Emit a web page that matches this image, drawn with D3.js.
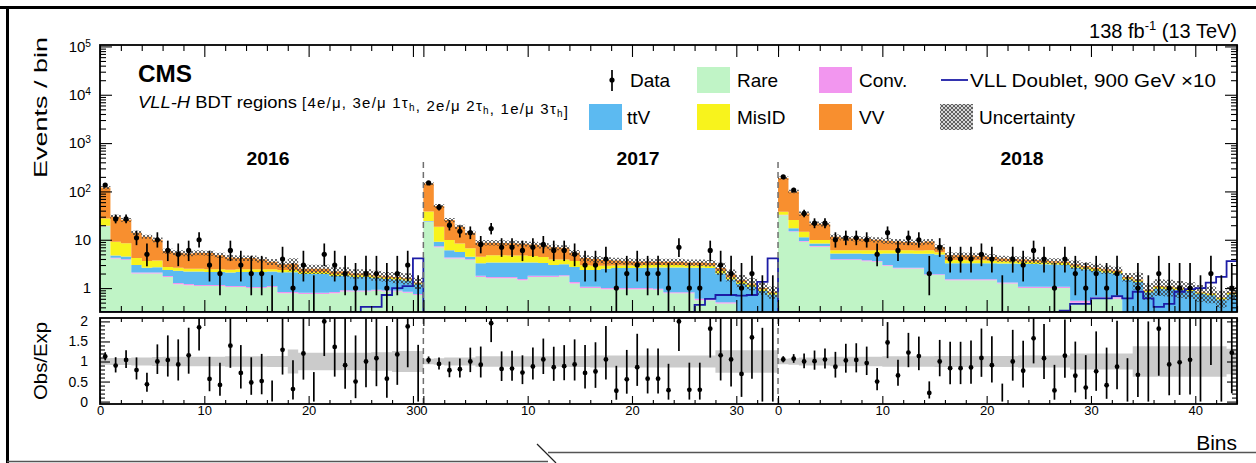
<!DOCTYPE html>
<html>
<head>
<meta charset="utf-8">
<title>VLL-H BDT regions</title>
<script src="https://cdn.jsdelivr.net/npm/d3@7/dist/d3.min.js"></script>
<style>
  body { margin: 0; background: #fff; }
  svg { display: block; }
  text { font-family: "Liberation Sans", Arial, Helvetica, sans-serif; fill: #000; }
</style>
</head>
<body>
<svg id="chart" width="1256" height="463"></svg>
<script>
'use strict';

// one histogram of BDT bins per data-taking year
var years = ["2016", "2017", "2018"];

// 2016, 31 bins
var rare16  = [19, 4.1, 3.8, 2.0, 2.0, 2.0, 1.7, 1.2, 1.15, 1.1, 1.1, 1.1, 1.05, 1.05, 1.0, 1.0, 1.05, 0.78, 0.78, 0.75, 0.75, 0.75, 0.78, 0.85, 0.85, 0.85, 0.88, 0.85, 0.85, 0.8, 0.72];
var conv16  = [0.3, 0.15, 0.15, 0.1, 0.1, 0.1, 0.08, 0.08, 0.06, 0.06, 0.06, 0.06, 0.05, 0.05, 0.05, 0.05, 0.05, 0.05, 0.05, 0.05, 0.05, 0.05, 0.05, 0.05, 0.04, 0.04, 0.04, 0.04, 0.04, 0.04, 0.03];
var ttv16   = [0.3, 0.5, 0.55, 0.9, 0.55, 0.6, 0.6, 1.0, 1.0, 1.05, 1.0, 1.0, 1.0, 1.05, 1.1, 1.1, 1.1, 1.3, 1.3, 1.15, 1.15, 1.15, 0.95, 0.9, 0.8, 0.8, 0.7, 0.65, 0.62, 0.6, 0.45];
var misid16 = [8, 4.3, 4.0, 1.2, 1.0, 1.0, 0.35, 0.35, 0.3, 0.3, 0.3, 0.3, 0.3, 0.3, 0.3, 0.3, 0.25, 0.25, 0.25, 0.2, 0.2, 0.2, 0.18, 0.18, 0.15, 0.15, 0.12, 0.1, 0.1, 0.08, 0.06];
var vv16    = [92.4, 21, 17.5, 9.8, 7.95, 6.3, 3.07, 2.77, 2.69, 2.89, 2.84, 2.34, 1.9, 1.75, 1.75, 1.45, 1.05, 0.72, 0.82, 0.35, 0.35, 0.35, 0.24, 0.22, 0.16, 0.16, 0.11, 0.11, 0.09, 0.08, 0.04];
var data16  = [135, 27, 27, 11, 5, 10, 6, 5, 6, 10, 3, 2, 6, 3, 2, 2, 0, 4, 1, 3, 0, 5, 3, 2, 1, 2, 2, 1, 2, 3, 0];
var sig16   = [0, 0, 0, 0, 0, 0, 0, 0, 0, 0, 0, 0, 0, 0, 0, 0, 0, 0, 0, 0, 0, 0, 0, 0, 0, 0.41, 0.41, 0.72, 1.0, 1.1, 4.1];
var unc16   = [0.08, 0.09, 0.09, 0.1, 0.1, 0.11, 0.12, 0.12, 0.12, 0.12, 0.12, 0.12, 0.13, 0.13, 0.13, 0.13, 0.14, 0.14, 0.3, 0.22, 0.22, 0.22, 0.22, 0.22, 0.22, 0.22, 0.23, 0.23, 0.26, 0.26, 0.26];

// 2017, 34 bins
var rare17  = [23.6, 7, 4.1, 4.1, 3.8, 1.7, 1.6, 1.6, 1.6, 1.45, 1.7, 1.7, 1.7, 1.75, 1.25, 1.0, 1.0, 0.95, 0.95, 0.95, 0.95, 0.95, 0.92, 0.78, 0.78, 0.78, 0.56, 0.56, 0.48, 0.48, 0.25, 0.25, 0.2, 0.2];
var conv17  = [0.3, 0.3, 0.2, 0.2, 0.15, 0.1, 0.1, 0.1, 0.1, 0.1, 0.1, 0.1, 0.1, 0.1, 0.08, 0.06, 0.06, 0.05, 0.05, 0.05, 0.05, 0.05, 0.05, 0.04, 0.04, 0.04, 0.04, 0.04, 0.03, 0.03, 0.02, 0.02, 0.02, 0.02];
var ttv17   = [0.5, 1.8, 1.8, 1.3, 0.5, 1.45, 1.7, 1.7, 1.7, 1.85, 1.6, 1.5, 1.2, 1.25, 1.4, 1.3, 1.3, 1.5, 1.6, 1.6, 1.6, 1.65, 1.7, 1.85, 1.85, 1.8, 2.05, 2.0, 1.5, 1.0, 0.95, 0.8, 0.65, 0.52];
var misid17 = [14, 9.5, 3.8, 2.8, 2.2, 1.2, 1.4, 1.4, 1.3, 1.3, 1.2, 1.1, 0.9, 0.8, 0.9, 0.6, 0.55, 0.4, 0.35, 0.35, 0.35, 0.35, 0.33, 0.33, 0.33, 0.33, 0.3, 0.3, 0.25, 0.15, 0.12, 0.1, 0.08, 0.06];
var vv17    = [106.6, 31.4, 15.7, 10.2, 7.35, 4.25, 3.9, 3.8, 3.8, 3.6, 3.4, 3.2, 3.1, 2.9, 1.77, 1.24, 1.09, 0.9, 0.75, 0.65, 0.55, 0.5, 0.5, 0.5, 0.5, 0.45, 0.45, 0.4, 0.34, 0.24, 0.11, 0.08, 0.05, 0.04];
var data17  = [150, 47, 20, 15, 14, 8, 17, 7, 7, 6, 7, 8, 6, 6, 5, 3, 3, 4, 1, 2, 3, 2, 2, 1, 7, 1, 1, 6, 3, 2, 1, 2, 0, 0];
var sig17   = [0, 0, 0, 0, 0, 0, 0, 0, 0, 0, 0, 0, 0, 0, 0, 0, 0, 0, 0, 0, 0, 0, 0, 0, 0, 0, 0.45, 0.6, 0.72, 0.72, 0.7, 0.72, 1.35, 4.1];
var unc17   = [0.07, 0.08, 0.1, 0.1, 0.1, 0.13, 0.13, 0.13, 0.13, 0.13, 0.13, 0.13, 0.13, 0.13, 0.14, 0.14, 0.15, 0.15, 0.15, 0.15, 0.15, 0.15, 0.15, 0.15, 0.15, 0.15, 0.15, 0.15, 0.28, 0.28, 0.28, 0.28, 0.28, 0.28];

// 2018, 44 bins
var rare18  = [32, 14.6, 9.1, 7.2, 7.2, 3.8, 3.8, 3.8, 3.6, 3.5, 2.9, 2.55, 2.55, 2.55, 1.86, 1.86, 1.46, 1.46, 1.46, 1.46, 1.46, 1.25, 1.25, 1.0, 1.0, 1.0, 1.0, 1.0, 0.5, 0.5, 0.6, 0.6, 0.6, 0.2, 0.2, 0.15, 0.15, 0.15, 0.15, 0.15, 0.12, 0.12, 0.1, 0.1];
var conv18  = [0.5, 0.4, 0.3, 0.2, 0.2, 0.15, 0.15, 0.15, 0.15, 0.15, 0.1, 0.1, 0.1, 0.1, 0.08, 0.08, 0.06, 0.06, 0.06, 0.06, 0.06, 0.06, 0.06, 0.06, 0.06, 0.06, 0.06, 0.06, 0.05, 0.05, 0.05, 0.05, 0.05, 0.03, 0.03, 0.02, 0.02, 0.02, 0.02, 0.02, 0.02, 0.02, 0.02, 0.02];
var ttv18   = [0.5, 2.2, 1.8, 1.0, 1.0, 1.25, 1.25, 1.25, 1.4, 1.5, 2.2, 2.55, 2.55, 2.5, 3.2, 3.0, 1.73, 1.73, 1.73, 1.75, 1.75, 1.9, 1.9, 2.1, 2.1, 2.05, 2.0, 1.95, 2.1, 1.9, 1.62, 1.45, 1.35, 1.25, 1.1, 0.65, 0.8, 0.78, 0.74, 0.7, 0.62, 0.57, 0.46, 0.62];
var misid18 = [5, 8.4, 3.4, 1.5, 1.5, 0.9, 0.9, 0.9, 0.9, 0.9, 0.9, 0.9, 0.85, 0.85, 0.9, 0.6, 0.55, 0.55, 0.5, 0.5, 0.45, 0.4, 0.4, 0.35, 0.35, 0.33, 0.3, 0.3, 0.25, 0.22, 0.2, 0.18, 0.15, 0.12, 0.1, 0.06, 0.08, 0.08, 0.07, 0.06, 0.05, 0.05, 0.04, 0.05];
var vv18    = [152, 74.4, 20.4, 11.9, 11.1, 5.4, 4.6, 4.5, 4.35, 3.95, 3.4, 3.1, 2.95, 2.8, 3.16, 1.46, 1.0, 1.0, 0.95, 0.83, 0.68, 0.49, 0.39, 0.39, 0.29, 0.26, 0.24, 0.19, 0.2, 0.18, 0.18, 0.17, 0.15, 0.1, 0.07, 0.04, 0.05, 0.05, 0.04, 0.03, 0.03, 0.02, 0.02, 0.03];
var data18  = [200, 107, 35, 22, 22, 10, 11, 11, 10, 5, 14, 6, 11, 10, 2, 7, 4, 4, 4, 5, 4, 0, 4, 3, 6, 4, 1, 4, 2, 1, 2, 1, 2, 0, 1, 0, 2, 1, 1, 1, 0, 2, 0, 1];
var sig18   = [0, 0, 0, 0, 0, 0, 0, 0, 0, 0, 0, 0, 0, 0, 0, 0, 0, 0, 0, 0, 0, 0, 0, 0, 0, 0, 0, 0.34, 0.47, 0.47, 0.61, 0.61, 0.68, 0.61, 0.84, 0.61, 0.41, 0.47, 0.84, 0.95, 1.0, 1.3, 1.7, 3.6];
var unc18   = [0.07, 0.08, 0.1, 0.1, 0.1, 0.12, 0.12, 0.12, 0.12, 0.12, 0.13, 0.13, 0.13, 0.13, 0.13, 0.14, 0.14, 0.14, 0.14, 0.14, 0.14, 0.14, 0.14, 0.15, 0.15, 0.15, 0.15, 0.15, 0.2, 0.2, 0.2, 0.2, 0.2, 0.2, 0.38, 0.38, 0.38, 0.38, 0.38, 0.38, 0.38, 0.38, 0.38, 0.32];

// background processes, bottom of the stack first
var procs = ["rare", "conv", "ttv", "misid", "vv"];
var procNames = ["Rare", "Conv.", "ttV", "MisID", "VV"];
var ratioTicks = [0, 0.5, 1, 1.5, 2];
var logTicks = [1, 10, 100, 1e3, 1e4, 1e5];

var colors = { rare: "#c0f4c6", conv: "#f296ef", ttv: "#5cbaf1", misid: "#f8f31c", vv: "#f88f2f" };
var sigColor = "#1c1ca6";

// garwood 68% intervals (down, up) for small counts
var garwood = [[0, 1.84], [0.83, 2.30], [1.29, 2.64], [1.63, 2.92], [1.91, 3.16], [2.16, 3.38],
               [2.38, 3.58], [2.58, 3.77], [2.77, 3.95], [2.94, 4.11], [3.11, 4.27]];
function poisErr(n) {
  if (n <= 10) return garwood[n];
  return [Math.sqrt(n - 0.25), Math.sqrt(n + 0.75) + 1];
}

var comp = {
  rare: [rare16, rare17, rare18], conv: [conv16, conv17, conv18], ttv: [ttv16, ttv17, ttv18],
  misid: [misid16, misid17, misid18], vv: [vv16, vv17, vv18]
};
var dataY = [data16, data17, data18], sigY = [sig16, sig17, sig18], uncY = [unc16, unc17, unc18];

var nb = [data16.length, data17.length, data18.length];
var start = [0, nb[0], nb[0] + nb[1]];
var N = nb[0] + nb[1] + nb[2];

var bins = [];
years.forEach(function(yr, k) {
  for (var j = 0; j < nb[k]; j++) {
    var b = { year: k, j: j, data: dataY[k][j], sig: sigY[k][j], unc: uncY[k][j], tot: 0 };
    procs.forEach(function(p) { b[p] = comp[p][k][j]; b.tot += comp[p][k][j]; });
    bins.push(b);
  }
});

// layout
var L = 100, R = 1237, T1 = 45, B1 = 312, T2 = 318, B2 = 404;
var svg = d3.select("#chart");

var x = d3.scaleLinear().domain([0, N]).range([L, R]);
var yMin = 0.32, yMax = 1.07e5;
var y = d3.scaleLog().domain([yMin, yMax]).range([B1, T1]);
var yc = function(v) { return y(Math.min(Math.max(v, yMin), yMax)); };
var yr = d3.scaleLinear().domain([-0.06, 2.085]).range([B2, T2]);

var defs = svg.append("defs");
defs.append("clipPath").attr("id", "clipTop").append("rect")
  .attr("x", L).attr("y", T1).attr("width", R - L).attr("height", B1 - T1);
defs.append("clipPath").attr("id", "clipRat").append("rect")
  .attr("x", L).attr("y", T2).attr("width", R - L).attr("height", B2 - T2);
var pat = defs.append("pattern").attr("id", "hatch").attr("patternUnits", "userSpaceOnUse")
  .attr("width", 4).attr("height", 4);
pat.append("path").attr("d", "M0,0L4,4M4,0L0,4M-1,3L1,5M3,-1L5,1")
  .attr("stroke", "#3b3b3b").attr("stroke-width", 0.9).attr("stroke-opacity", 0.85);

// stepped band helper: n bins -> n+1 edges
function steps(f0, f1) {
  var p = bins.map(function(d, i) { return { i: i, a: f0(d), b: f1(d) }; });
  p.push({ i: N, a: p[N - 1].a, b: p[N - 1].b });
  return p;
}
var area = d3.area().curve(d3.curveStepAfter)
  .x(function(d) { return x(d.i); }).y0(function(d) { return yc(d.a); }).y1(function(d) { return yc(d.b); });
var areaR = d3.area().curve(d3.curveStepAfter)
  .x(function(d) { return x(d.i); }).y0(function(d) { return yr(d.a); }).y1(function(d) { return yr(d.b); });

// ---------- top panel ----------
var gTop = svg.append("g").attr("clip-path", "url(#clipTop)");

var stack = d3.stack().keys(procs)(bins);
gTop.selectAll("path.proc").data(stack).join("path")
  .attr("class", "proc")
  .attr("fill", function(s) { return colors[s.key]; })
  .attr("d", function(s) {
    var p = s.map(function(d, i) { return { i: i, a: d[0], b: d[1] }; });
    p.push({ i: N, a: p[N - 1].a, b: p[N - 1].b });
    return area(p);
  });

gTop.append("path")
  .attr("d", area(steps(function(d) { return d.tot * (1 - d.unc); }, function(d) { return d.tot * (1 + d.unc); })))
  .attr("fill", "url(#hatch)");

var sigPts = bins.map(function(d, i) { return { i: i, v: d.sig }; });
sigPts.push({ i: N, v: bins[N - 1].sig });
gTop.append("path")
  .attr("d", d3.line().curve(d3.curveStepAfter)
    .x(function(d) { return x(d.i); }).y(function(d) { return yc(d.v); })(sigPts))
  .attr("fill", "none").attr("stroke", sigColor).attr("stroke-width", 1.8);

gTop.selectAll("line.err").data(bins).join("line")
  .attr("class", "err")
  .attr("x1", function(d, i) { return x(i + 0.5); }).attr("x2", function(d, i) { return x(i + 0.5); })
  .attr("y1", function(d) { return yc(d.data - poisErr(d.data)[0]); })
  .attr("y2", function(d) { return yc(d.data + poisErr(d.data)[1]); })
  .attr("stroke", "#000").attr("stroke-width", 1.7);
gTop.selectAll("circle.pt").data(bins.filter(function(d) { return d.data > 0; })).join("circle")
  .attr("class", "pt")
  .attr("cx", function(d) { return x(start[d.year] + d.j + 0.5); })
  .attr("cy", function(d) { return yc(d.data); })
  .attr("r", 2.6).attr("fill", "#000");

// ---------- ratio panel ----------
var gRat = svg.append("g").attr("clip-path", "url(#clipRat)");
gRat.append("path")
  .attr("d", areaR(steps(function(d) { return 1 - d.unc; }, function(d) { return 1 + d.unc; })))
  .attr("fill", "#cbcbcb");

gRat.selectAll("line.rerr").data(bins).join("line")
  .attr("class", "rerr")
  .attr("x1", function(d, i) { return x(i + 0.5); }).attr("x2", function(d, i) { return x(i + 0.5); })
  .attr("y1", function(d) { return yr((d.data - poisErr(d.data)[0]) / d.tot); })
  .attr("y2", function(d) { return yr((d.data + poisErr(d.data)[1]) / d.tot); })
  .attr("stroke", "#000").attr("stroke-width", 1.7);
gRat.selectAll("circle.rpt").data(bins.filter(function(d) { return d.data > 0 && d.data / d.tot < 2.08; })).join("circle")
  .attr("class", "rpt")
  .attr("cx", function(d) { return x(start[d.year] + d.j + 0.5); })
  .attr("cy", function(d) { return yr(d.data / d.tot); })
  .attr("r", 2.4).attr("fill", "#000");

// year separators
[1, 2].forEach(function(k) {
  [[162, B1], [T2, B2]].forEach(function(seg) {
    svg.append("line").attr("x1", x(start[k])).attr("x2", x(start[k]))
      .attr("y1", seg[0]).attr("y2", seg[1])
      .attr("stroke", "#6f6f6f").attr("stroke-width", 1.5).attr("stroke-dasharray", "6,4");
  });
});

// ---------- axes ----------
function styleAxis(g) {
  g.select(".domain").remove();
  g.selectAll("line").attr("stroke", "#000").attr("stroke-width", 1.1);
}

years.forEach(function(yrName, k) {
  var xs = d3.scaleLinear().domain([0, nb[k]]).range([x(start[k]), x(start[k] + nb[k])]);
  var major = d3.range(0, nb[k] + 1, 10);
  var minor = d3.range(0, nb[k] + 1, 2).filter(function(v) { return v % 10 !== 0; });
  // top panel, bottom and top edges
  svg.append("g").attr("transform", "translate(0," + B1 + ")")
    .call(d3.axisBottom(xs).tickValues(major).tickSize(-12).tickFormat("")).call(styleAxis);
  svg.append("g").attr("transform", "translate(0," + B1 + ")")
    .call(d3.axisBottom(xs).tickValues(minor).tickSize(-6).tickFormat("")).call(styleAxis);
  svg.append("g").attr("transform", "translate(0," + T1 + ")")
    .call(d3.axisTop(xs).tickValues(major).tickSize(-12).tickFormat("")).call(styleAxis);
  svg.append("g").attr("transform", "translate(0," + T1 + ")")
    .call(d3.axisTop(xs).tickValues(minor).tickSize(-6).tickFormat("")).call(styleAxis);
  // ratio panel
  var bx = svg.append("g").attr("transform", "translate(0," + B2 + ")")
    .call(d3.axisBottom(xs).tickValues(major).tickSize(-8).tickPadding(2).tickFormat(d3.format("d")))
    .call(styleAxis);
  bx.selectAll("text").attr("font-size", 13).attr("font-family", "Liberation Sans, Arial, sans-serif").attr("fill", "#000");
  svg.append("g").attr("transform", "translate(0," + B2 + ")")
    .call(d3.axisBottom(xs).tickValues(minor).tickSize(-4).tickFormat("")).call(styleAxis);
  svg.append("g").attr("transform", "translate(0," + T2 + ")")
    .call(d3.axisTop(xs).tickValues(major).tickSize(-8).tickFormat("")).call(styleAxis);
  svg.append("g").attr("transform", "translate(0," + T2 + ")")
    .call(d3.axisTop(xs).tickValues(minor).tickSize(-4).tickFormat("")).call(styleAxis);
});

// log y axis
var logMinor = [];
[0.1, 1, 10, 100, 1e3, 1e4].forEach(function(dec) {
  for (var m = 2; m <= 9; m++) { var v = m * dec; if (v > yMin && v < yMax) logMinor.push(v); }
});
var ly = svg.append("g").attr("transform", "translate(" + L + ",0)")
  .call(d3.axisLeft(y).tickValues(logTicks).tickSize(-12).tickPadding(9)).call(styleAxis);
ly.selectAll("text").attr("font-size", 15).attr("font-family", "Liberation Sans, Arial, sans-serif").attr("fill", "#000")
  .each(function(d) {
    var t = d3.select(this), e = Math.round(Math.log10(d));
    t.text(null);
    if (e === 0) t.text("1");
    else if (e === 1) t.text("10");
    else {
      t.append("tspan").text("10");
      t.append("tspan").attr("dy", "-0.5em").attr("font-size", "0.68em").text(e);
    }
  });
svg.append("g").attr("transform", "translate(" + L + ",0)")
  .call(d3.axisLeft(y).tickValues(logMinor).tickSize(-6).tickFormat("")).call(styleAxis);
svg.append("g").attr("transform", "translate(" + R + ",0)")
  .call(d3.axisRight(y).tickValues(logTicks).tickSize(-12).tickFormat("")).call(styleAxis);
svg.append("g").attr("transform", "translate(" + R + ",0)")
  .call(d3.axisRight(y).tickValues(logMinor).tickSize(-6).tickFormat("")).call(styleAxis);

// ratio y axis
var rMinor = d3.range(0, 21).map(function(v) { return v / 10; }).filter(function(v) { return ratioTicks.indexOf(v) < 0; });
var ry = svg.append("g").attr("transform", "translate(" + L + ",0)")
  .call(d3.axisLeft(yr).tickValues(ratioTicks).tickSize(-10).tickPadding(12).tickFormat(d3.format("~g")))
  .call(styleAxis);
ry.selectAll("text").attr("font-size", 14).attr("font-family", "Liberation Sans, Arial, sans-serif").attr("fill", "#000");
svg.append("g").attr("transform", "translate(" + L + ",0)")
  .call(d3.axisLeft(yr).tickValues(rMinor).tickSize(-5).tickFormat("")).call(styleAxis);
svg.append("g").attr("transform", "translate(" + R + ",0)")
  .call(d3.axisRight(yr).tickValues(ratioTicks).tickSize(-10).tickFormat("")).call(styleAxis);
svg.append("g").attr("transform", "translate(" + R + ",0)")
  .call(d3.axisRight(yr).tickValues(rMinor).tickSize(-5).tickFormat("")).call(styleAxis);

// frames
[[T1, B1], [T2, B2]].forEach(function(f) {
  svg.append("rect").attr("x", L).attr("y", f[0]).attr("width", R - L).attr("height", f[1] - f[0])
    .attr("fill", "none").attr("stroke", "#000").attr("stroke-width", 1.8);
});

// ---------- texts ----------
svg.append("text").attr("transform", "translate(47,37) rotate(-90)")
  .attr("text-anchor", "end").attr("font-size", 19).attr("textLength", 141)
  .attr("lengthAdjust", "spacingAndGlyphs").text("Events / bin");
svg.append("text").attr("transform", "translate(47,361) rotate(-90)")
  .attr("text-anchor", "middle").attr("font-size", 19).attr("textLength", 78)
  .attr("lengthAdjust", "spacingAndGlyphs").text("Obs/Exp");
svg.append("text").attr("x", R).attr("y", 450).attr("text-anchor", "end").attr("font-size", 21).text("Bins");

var lumi = svg.append("text").attr("x", R).attr("y", 38).attr("text-anchor", "end").attr("font-size", 20);
lumi.append("tspan").text("138 fb");
lumi.append("tspan").attr("dy", -8).attr("font-size", 13).text("-1");
lumi.append("tspan").attr("dy", 8).text(" (13 TeV)");

svg.append("text").attr("x", 138).attr("y", 82).attr("font-size", 23).attr("font-weight", "bold")
  .attr("textLength", 54).attr("lengthAdjust", "spacingAndGlyphs").text("CMS");
var sub = svg.append("text").attr("x", 138).attr("y", 108).attr("font-size", 16)
  .attr("textLength", 159).attr("lengthAdjust", "spacingAndGlyphs");
sub.append("tspan").attr("font-style", "italic").text("VLL-H");
sub.append("tspan").text(" BDT regions");
var br = svg.append("text").attr("x", 302).attr("y", 108).attr("font-size", 15)
  .attr("font-family", "Liberation Serif, Times New Roman, serif")
  .attr("textLength", 266).attr("lengthAdjust", "spacing");
[["[4e/\u03bc, 3e/\u03bc 1\u03c4", "h"], [", 2e/\u03bc 2\u03c4", "h"], [", 1e/\u03bc 3\u03c4", "h"]].forEach(function(p) {
  br.append("tspan").text(p[0]);
  br.append("tspan").attr("dy", 3).attr("font-size", 10).text(p[1]);
  br.append("tspan").attr("dy", -3).text("");
});
br.append("tspan").text("]");

var yearX = [268, 638, 1022];
years.forEach(function(yrName, k) {
  svg.append("text").attr("x", yearX[k]).attr("y", 165).attr("text-anchor", "middle")
    .attr("font-size", 18).attr("font-weight", "bold").attr("textLength", 43)
    .attr("lengthAdjust", "spacingAndGlyphs").text(yrName);
});

// ---------- legend ----------
var row1 = 80, row2 = 117, sw = 33, sh = 26;
var lg = svg.append("g").attr("font-size", 19);
lg.append("line").attr("x1", 612).attr("x2", 612).attr("y1", row1 - 10).attr("y2", row1 + 11)
  .attr("stroke", "#000").attr("stroke-width", 1.7);
lg.append("circle").attr("cx", 612).attr("cy", row1).attr("r", 2.6).attr("fill", "#000");
lg.append("text").attr("x", 630).attr("y", row1 + 7).text("Data");

var legBoxes = [
  { key: "rare", x: 697, row: row1, tx: 737 },
  { key: "conv", x: 819, row: row1, tx: 859 },
  { key: "ttv", x: 589, row: row2, tx: 627 },
  { key: "misid", x: 697, row: row2, tx: 737 },
  { key: "vv", x: 819, row: row2, tx: 859 }
];
legBoxes.forEach(function(b) {
  lg.append("rect").attr("x", b.x).attr("y", b.row - sh / 2).attr("width", sw).attr("height", sh)
    .attr("fill", colors[b.key]);
  lg.append("text").attr("x", b.tx).attr("y", b.row + 7).text(procNames[procs.indexOf(b.key)]);
});
lg.append("line").attr("x1", 941).attr("x2", 968).attr("y1", row1).attr("y2", row1)
  .attr("stroke", sigColor).attr("stroke-width", 1.8);
lg.append("text").attr("x", 970).attr("y", row1 + 7).attr("textLength", 246).attr("lengthAdjust", "spacingAndGlyphs")
  .text("VLL Doublet, 900 GeV \u00d710");
lg.append("rect").attr("x", 940).attr("y", row2 - sh / 2).attr("width", sw).attr("height", sh).attr("fill", "#d6d6d6");
lg.append("rect").attr("x", 940).attr("y", row2 - sh / 2).attr("width", sw).attr("height", sh).attr("fill", "url(#hatch)");
lg.append("text").attr("x", 979).attr("y", row2 + 7).text("Uncertainty");

// ---------- outer screenshot border ----------
svg.append("line").attr("x1", 0).attr("x2", 1256).attr("y1", 7.5).attr("y2", 7.5).attr("stroke", "#000").attr("stroke-width", 3);
svg.append("line").attr("x1", 7.5).attr("x2", 7.5).attr("y1", 6).attr("y2", 463).attr("stroke", "#000").attr("stroke-width", 3);
svg.append("line").attr("x1", 7).attr("x2", 548).attr("y1", 461.5).attr("y2", 461.5).attr("stroke", "#555").attr("stroke-width", 1.5);
svg.append("line").attr("x1", 548).attr("x2", 1256).attr("y1", 452.5).attr("y2", 452.5).attr("stroke", "#555").attr("stroke-width", 1.5);
svg.append("line").attr("x1", 537).attr("x2", 556).attr("y1", 444).attr("y2", 463).attr("stroke", "#222").attr("stroke-width", 1.2);
</script>
</body>
</html>
